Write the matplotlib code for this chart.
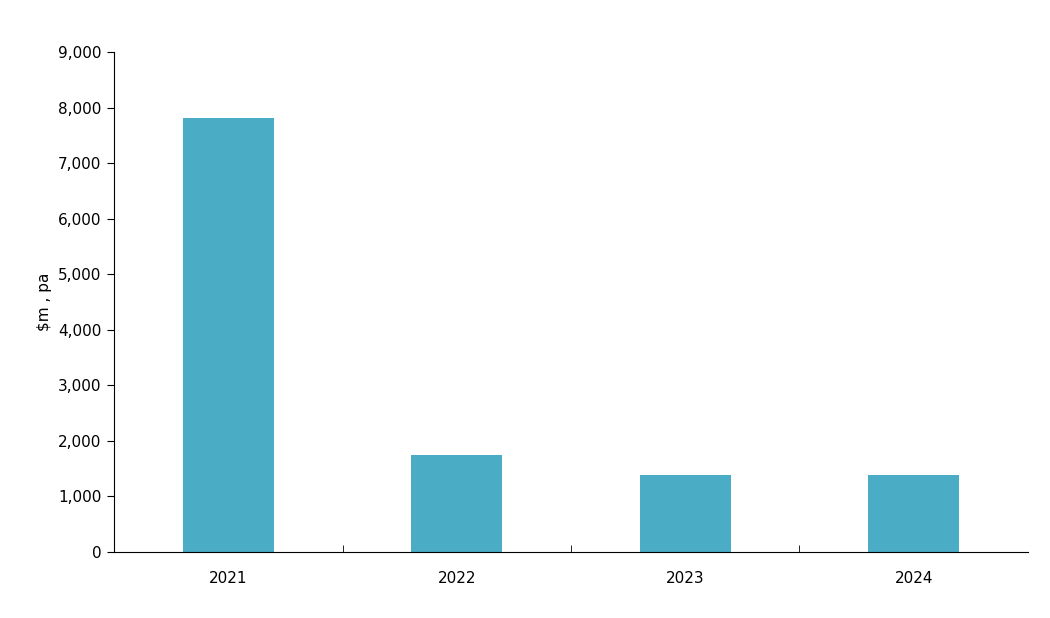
import matplotlib.pyplot as plt
from matplotlib.ticker import FuncFormatter, FixedLocator

years = ['2021', '2022', '2023', '2024']
values = [7810, 1750, 1390, 1390]

fig = plt.figure(figsize=(10.5, 6.18), dpi=100)
ax = fig.add_axes([0.1086, 0.1068, 0.8704, 0.8091])

x = range(len(years))
ax.bar(x, values, width=0.4, color='#4BACC6')

ax.set_xlim(-0.5, len(years) - 0.5)
ax.set_ylim(0, 9000)
ax.set_yticks(range(0, 9001, 1000))
ax.yaxis.set_major_formatter(FuncFormatter(lambda v, p: f'{int(v):,}'))
ax.set_xticks(list(x))
ax.set_xticklabels(years)
ax.tick_params(axis='x', length=0, labelsize=11, pad=14)
ax.xaxis.set_minor_locator(FixedLocator([i + 0.5 for i in range(len(years) - 1)]))
ax.tick_params(axis='x', which='minor', length=5, direction='in')
ax.tick_params(axis='y', length=5, labelsize=11, pad=4)
ax.set_ylabel('$m , pa', fontsize=11)

for s in ['top', 'right']:
    ax.spines[s].set_visible(False)

fig.savefig('out.png')
